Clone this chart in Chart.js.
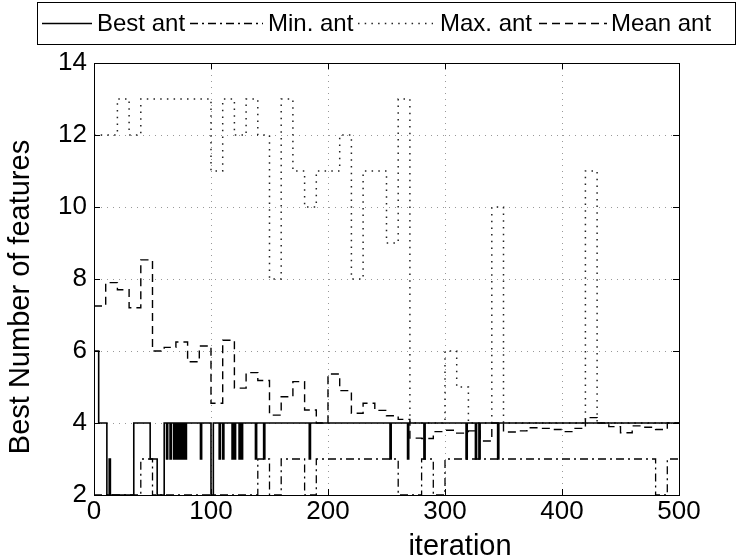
<!DOCTYPE html>
<html><head><meta charset="utf-8">
<script src="https://cdn.jsdelivr.net/npm/chart.js@4"></script>
<style>html,body{margin:0;padding:0;background:#fff}#wrap{width:737px;height:560px}</style>
</head><body><div id="wrap"><canvas id="c" width="737" height="560"></canvas></div>
<script>
const xTicks = [0, 100, 200, 300, 400, 500];
const yTicks = [2, 4, 6, 8, 10, 12, 14];
const seriesNames = ['Best ant', 'Min. ant', 'Max. ant', 'Mean ant'];
const xTitle = 'iteration';
const yTitle = 'Best Number of features';

// Each series: iteration where a new value starts, and that value (held until the next entry)
const bestIter = [0, 4, 11, 13, 14, 34, 48, 54, 60, 62, 63, 65, 66, 68, 69, 70, 71, 72, 73, 74, 75, 76, 77, 78, 79, 91, 92, 100, 102, 107, 108, 110, 111, 118, 119, 120, 121, 124, 125, 126, 127, 138, 139, 145, 146, 184, 185, 253, 254, 268, 269, 282, 283, 318, 319, 326, 327, 329, 330, 345, 346, 500];
const bestVal  = [6, 4, 2, 3, 2, 4, 3, 2, 4, 3, 4, 3, 4, 3, 4, 3, 4, 3, 4, 3, 4, 3, 4, 3, 4, 3, 4, 2, 4, 3, 4, 3, 4, 3, 4, 3, 4, 3, 4, 3, 4, 3, 4, 3, 4, 3, 4, 3, 4, 3, 4, 3, 4, 3, 4, 3, 4, 3, 4, 3, 4, 4];

const minIter = [0, 40, 50, 140, 150, 160, 180, 190, 260, 280, 290, 300, 480, 490, 500];
const minVal  = [2, 3, 2, 3, 2, 3, 2, 3, 2, 3, 2, 3, 2, 3, 3];

const maxIter = [0, 20, 30, 40, 100, 110, 120, 130, 140, 150, 160, 170, 180, 190, 210, 220, 230, 250, 260, 270, 300, 310, 320, 340, 350, 420, 430, 500];
const maxVal  = [12, 13, 12, 13, 11, 13, 12, 13, 12, 8, 13, 11, 10, 11, 12, 8, 11, 9, 13, 4, 6, 5, 4, 10, 4, 11, 4, 4];

const meanIter = [0, 10, 20, 30, 40, 50, 60, 70, 80, 90, 100, 110, 120, 130, 140, 150, 160, 170, 180, 190, 200, 210, 220, 230, 240, 250, 260, 270, 280, 290, 300, 310, 320, 330, 340, 350, 360, 370, 380, 390, 400, 410, 420, 430, 440, 450, 460, 470, 480, 490, 500];
const meanVal  = [7.25, 7.9, 7.7, 7.2, 8.53, 6.0, 6.1, 6.25, 5.7, 6.14, 4.55, 6.3, 4.97, 5.4, 5.18, 4.22, 4.73, 5.15, 4.36, 4.0, 5.36, 4.9, 4.27, 4.55, 4.35, 4.2, 4.1, 3.58, 3.57, 3.76, 3.8, 3.72, 3.78, 3.5, 4.0, 3.75, 3.78, 3.87, 3.85, 3.82, 3.76, 3.85, 4.15, 4.0, 3.9, 3.73, 3.92, 3.88, 3.82, 4.0, 4.0];

const toPts = (xs, ys) => xs.map((x, i) => ({ x: x, y: ys[i] }));
const FONT = '"Liberation Sans", Arial, Helvetica, sans-serif';

const frameLegend = {
  id: 'frameLegend',
  afterDraw(chart) {
    const ctx = chart.ctx, a = chart.chartArea;
    const xs = chart.scales.x, ys = chart.scales.y;
    ctx.save();
    ctx.strokeStyle = '#000'; ctx.lineWidth = 1; ctx.setLineDash([]);
    ctx.strokeRect(Math.round(a.left) + 0.5, Math.round(a.top) + 0.5, Math.round(a.right - a.left), Math.round(a.bottom - a.top));
    // inward ticks
    ctx.beginPath();
    xTicks.forEach(v => {
      const px = Math.round(xs.getPixelForValue(v)) + 0.5;
      ctx.moveTo(px, a.bottom); ctx.lineTo(px, a.bottom - 6);
      ctx.moveTo(px, a.top); ctx.lineTo(px, a.top + 6);
    });
    yTicks.forEach(v => {
      const py = Math.round(ys.getPixelForValue(v)) + 0.5;
      ctx.moveTo(a.left, py); ctx.lineTo(a.left + 6, py);
      ctx.moveTo(a.right, py); ctx.lineTo(a.right - 6, py);
    });
    ctx.stroke();
    // axis titles
    ctx.fillStyle = '#000';
    ctx.font = '29px ' + FONT;
    ctx.textAlign = 'center'; ctx.textBaseline = 'middle';
    ctx.fillText(xTitle, 460, 547);
    ctx.save();
    ctx.translate(21, 297); ctx.rotate(-Math.PI / 2);
    ctx.fillText(yTitle, 0, 0);
    ctx.restore();
    // legend
    const L = { x0: 37, y0: 2, x1: 735, y1: 44 };
    ctx.fillStyle = '#fff';
    ctx.fillRect(L.x0, L.y0, L.x1 - L.x0, L.y1 - L.y0);
    ctx.strokeRect(L.x0 + 0.5, L.y0 + 0.5, L.x1 - L.x0, L.y1 - L.y0);
    const entries = [
      { s: 42, e: 92, t: 97 },
      { s: 190, e: 263, t: 268 },
      { s: 358, e: 433, t: 440 },
      { s: 539, e: 607, t: 611 }
    ];
    const cy = 23;
    ctx.font = '24px ' + FONT;
    ctx.textBaseline = 'middle';
    ctx.textAlign = 'left';
    chart.data.datasets.forEach((ds, i) => {
      const en = entries[i];
      ctx.save();
      ctx.strokeStyle = ds.borderColor; ctx.lineWidth = ds.borderWidth;
      ctx.setLineDash(ds.borderDash || []);
      ctx.beginPath(); ctx.moveTo(en.s, cy + 0.5); ctx.lineTo(en.e, cy + 0.5); ctx.stroke();
      ctx.restore();
      ctx.fillStyle = '#000';
      ctx.fillText(seriesNames[i], en.t, cy + 1);
    });
    ctx.restore();
  }
};

new Chart(document.getElementById('c'), {
  type: 'line',
  data: {
    datasets: [
      { label: seriesNames[0], data: toPts(bestIter, bestVal), borderColor: '#000', borderWidth: 1.6, borderDash: [], stepped: true, pointRadius: 0, fill: false, order: 0 },
      { label: seriesNames[1], data: toPts(minIter, minVal), borderColor: '#000', borderWidth: 1.3, borderDash: [8, 4, 2, 4], stepped: true, pointRadius: 0, fill: false, order: 1 },
      { label: seriesNames[2], data: toPts(maxIter, maxVal), borderColor: '#222', borderWidth: 1.5, borderDash: [1.5, 5.2], stepped: true, pointRadius: 0, fill: false, order: 2 },
      { label: seriesNames[3], data: toPts(meanIter, meanVal), borderColor: '#000', borderWidth: 1.4, borderDash: [8, 5], stepped: true, pointRadius: 0, fill: false, order: 3 }
    ]
  },
  options: {
    responsive: false,
    animation: false,
    events: [],
    layout: { padding: { left: 0, right: 58, top: 63, bottom: 0 } },
    plugins: { legend: { display: false }, tooltip: { enabled: false } },
    scales: {
      x: {
        type: 'linear', min: 0, max: 500,
        afterFit: s => { s.height = 65; },
        afterBuildTicks: s => { s.ticks = xTicks.map(v => ({ value: v })); },
        ticks: { color: '#000', font: { family: FONT, size: 26 }, padding: 1, maxRotation: 0 },
        grid: { color: '#999', lineWidth: 1, drawTicks: false },
        border: { display: true, color: '#000', width: 1, dash: [1, 5] },
        title: { display: false }
      },
      y: {
        type: 'linear', min: 2, max: 14,
        afterFit: s => { s.width = 94; },
        afterBuildTicks: s => { s.ticks = yTicks.map(v => ({ value: v })); },
        ticks: { color: '#000', font: { family: FONT, size: 26 }, padding: 7 },
        grid: { color: '#999', lineWidth: 1, drawTicks: false },
        border: { display: true, color: '#000', width: 1, dash: [1, 5] },
        title: { display: false }
      }
    }
  },
  plugins: [frameLegend]
});
</script></body></html>
